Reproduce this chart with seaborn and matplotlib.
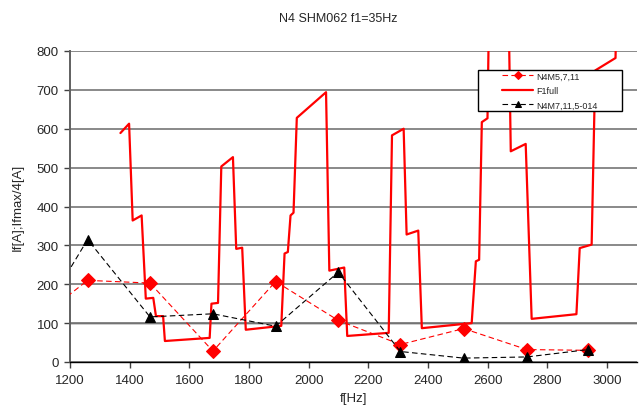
import matplotlib
matplotlib.use("Agg")
import matplotlib.pyplot as plt
from matplotlib.patches import Rectangle
import seaborn as sns
import pandas as pd

# F1full sweep: frequency [Hz] and current [A]
f1_freq = [1369, 1398, 1410, 1440, 1454, 1479, 1488, 1512, 1518, 1668, 1674, 1696,
           1707, 1746, 1757, 1777, 1789, 1908, 1919, 1930, 1939, 1949, 1960, 2058,
           2069, 2119, 2129, 2268, 2279, 2318, 2328, 2367, 2379, 2546, 2560, 2571,
           2580, 2599, 2606, 2668, 2677, 2727, 2747, 2897, 2908, 2948, 2960, 3028, 3034]
f1_curr = [589, 613, 364, 377, 163, 165, 118, 118, 54, 62, 150, 152,
           503, 527, 291, 294, 83, 93, 279, 283, 377, 384, 628, 694,
           235, 243, 67, 75, 583, 600, 328, 338, 87, 100, 259, 263,
           617, 627, 1000, 1000, 542, 561, 111, 123, 293, 302, 750, 782, 1000]

# Measurement series at the resonance steps
n4m5_freq = [1050, 1259, 1468, 1679, 1889, 2099, 2307, 2519, 2731, 2937]
n4m5_curr = [84, 210, 203, 28, 207, 107, 45, 86, 32, 30]

n4m7_freq = [1050, 1259, 1468, 1679, 1889, 2099, 2307, 2519, 2731, 2937]
n4m7_curr = [49, 315, 116, 124, 92, 231, 27, 10, 13, 32]

labels = ["N4M5,7,11", "F1full", "N4M7,11,5-014"]
x_ticks = [1200, 1400, 1600, 1800, 2000, 2200, 2400, 2600, 2800, 3000]
y_ticks = [0, 100, 200, 300, 400, 500, 600, 700, 800]

sns.set_style("white")
plt.rcParams["font.family"] = ["Liberation Sans", "DejaVu Sans"]

fig = plt.figure(figsize=(6.39, 4.10), dpi=100)
ax = fig.add_axes([70 / 639, 1 - 363 / 410, 567 / 639, 311 / 410])

df_f1 = pd.DataFrame({"f": f1_freq, "I": f1_curr})
df_m5 = pd.DataFrame({"f": n4m5_freq, "I": n4m5_curr})
df_m7 = pd.DataFrame({"f": n4m7_freq, "I": n4m7_curr})

sns.lineplot(data=df_m5, x="f", y="I", ax=ax, color="#ff0000", lw=0.8,
             linestyle=(0, (5, 3)), marker="D", markersize=7,
             markeredgecolor="#ff0000", label=labels[0], sort=False, zorder=3)
sns.lineplot(data=df_f1, x="f", y="I", ax=ax, color="#ff0000", lw=1.6,
             label=labels[1], sort=False, zorder=4)
sns.lineplot(data=df_m7, x="f", y="I", ax=ax, color="black", lw=0.8,
             linestyle=(0, (5, 3)), marker="^", markersize=7,
             markeredgecolor="black", label=labels[2], sort=False, zorder=5)

ax.set_xlim(1200, 3100)
ax.set_ylim(0, 800)
ax.set_xticks(x_ticks)
ax.set_yticks(y_ticks)
ax.tick_params(axis="both", labelsize=9.5, length=4, width=1, color="#404040",
               direction="out", left=True, bottom=True)
ax.tick_params(axis="x", pad=5)
ax.tick_params(axis="y", pad=4)

ax.set_axisbelow(True)
ax.yaxis.grid(True, color="#808080", lw=1.3)
ax.xaxis.grid(False)
ax.axhline(100, color="black", lw=1.0, zorder=0.5)
for s in ["top", "right"]:
    ax.spines[s].set_visible(False)
ax.spines["left"].set_color("#606060")
ax.spines["left"].set_linewidth(1.4)
ax.spines["bottom"].set_color("black")
ax.spines["bottom"].set_linewidth(1.0)

ax.set_xlabel("f[Hz]", fontsize=9.5, labelpad=4)
ax.set_ylabel("If[A];Ifmax/4[A]", fontsize=9.5, labelpad=9)
fig.text(338 / 639, 1 - 19 / 410, "N4 SHM062 f1=35Hz", ha="center", va="center",
         fontsize=9)

# Legend with a box wider than its content
bx, by, bw, bh = 0.7196, 0.807, 0.254, 0.132
ax.add_patch(Rectangle((bx, by), bw, bh, transform=ax.transAxes, facecolor="white",
                       edgecolor="black", lw=1.0, zorder=6))
leg = ax.legend(loc="center", bbox_to_anchor=(bx + bw / 2, by + bh / 2),
                frameon=False, fontsize=6.5, handlelength=3.4, handletextpad=0.4,
                labelspacing=0.6, markerscale=0.6, borderaxespad=0)
leg.set_zorder(7)

fig.savefig("out.png", dpi=100)
